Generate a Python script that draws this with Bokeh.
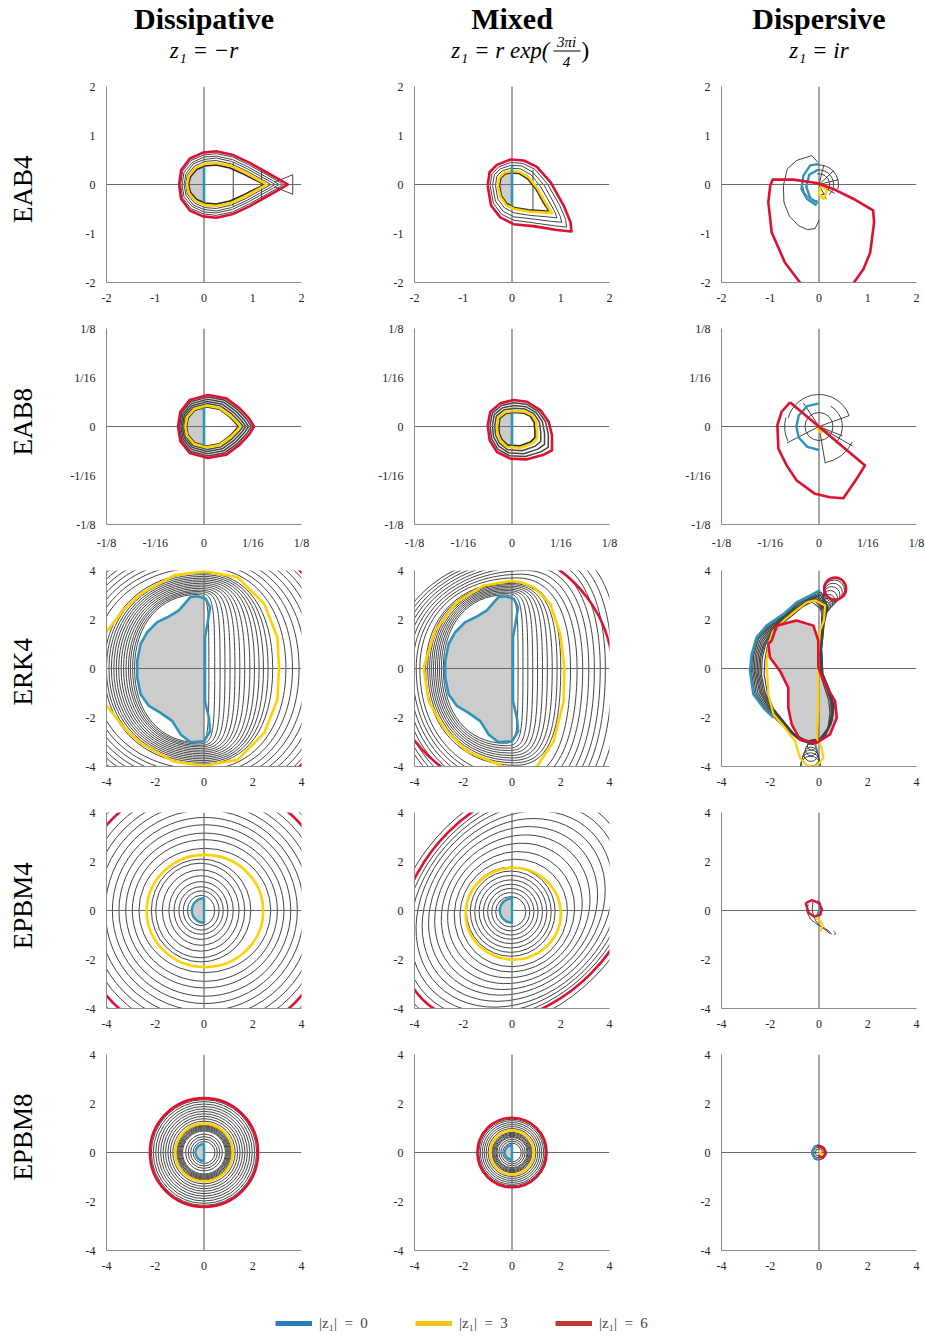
import math
from bokeh.plotting import figure
from bokeh.layouts import row, column
from bokeh.models import Range1d, FixedTicker, Legend, LegendItem
from bokeh.embed import file_html
from bokeh.resources import INLINE
from bokeh.core.properties import value

SERIF = "Liberation Serif"
BLUE = "#2f93ba"; YELLOW = "#ffd100"; RED = "#e01030"
GRAY = "#444444"; DARK = "#2a2a2a"; FILL = "#cccccc"; CROSS = "#6a6a6a"; AXIS = "#8c8c8c"

# ---------------- texts ----------------
col_titles = ["Dissipative", "Mixed", "Dispersive"]
col_formulas = ["z\u2081 = \u2212r", "z\u2081 = r exp(", "z\u2081 = ir"]
mixed_fraction = ["3\u03c0i", "4", ")"]
row_labels = ["EAB4", "EAB8", "ERK4", "EPBM4", "EPBM8"]
legend_labels = ["|z\u2081|  =  0", "|z\u2081|  =  3", "|z\u2081|  =  6"]
legend_colors = ["#2980b9", "#f1c40f", "#c0392b"]

ticks_2 = [-2.0, -1.0, 0.0, 1.0, 2.0]; labels_2 = ["-2", "-1", "0", "1", "2"]
ticks_8 = [-0.125, -0.0625, 0.0, 0.0625, 0.125]; labels_8 = ["-1/8", "-1/16", "0", "1/16", "1/8"]
ticks_4 = [-4.0, -2.0, 0.0, 2.0, 4.0]; labels_4 = ["-4", "-2", "0", "2", "4"]

# ---------------- EAB4 dissipative (upper halves, mirrored) ----------------
eab4_dis_red_x = [-0.51, -0.47, -0.29, -0.02, 0.25, 0.60, 0.94, 1.28, 1.55, 1.72]
eab4_dis_red_y = [0.00, 0.29, 0.53, 0.65, 0.68, 0.60, 0.44, 0.25, 0.10, 0.00]
eab4_dis_yel_x = [-0.35, -0.31, -0.17, 0.02, 0.25, 0.55, 0.85, 1.05, 1.20, 1.28]
eab4_dis_yel_y = [0.00, 0.18, 0.34, 0.42, 0.44, 0.38, 0.24, 0.13, 0.05, 0.00]
eab4_dis_in_x = [-0.32, -0.28, -0.15, 0.02, 0.25, 0.53, 0.82, 1.02, 1.16, 1.24]
eab4_dis_in_y = [0.00, 0.16, 0.31, 0.38, 0.40, 0.34, 0.21, 0.11, 0.04, 0.00]
eab4_dis_gray_x = [
    [-0.48, -0.44, -0.27, -0.01, 0.25, 0.59, 0.92, 1.23, 1.48, 1.63],
    [-0.45, -0.41, -0.24, 0.00, 0.25, 0.58, 0.90, 1.19, 1.41, 1.54],
    [-0.41, -0.37, -0.22, 0.00, 0.25, 0.57, 0.89, 1.14, 1.34, 1.46],
    [-0.38, -0.34, -0.19, 0.01, 0.25, 0.56, 0.87, 1.10, 1.27, 1.37]]
eab4_dis_gray_y = [
    [0.00, 0.27, 0.49, 0.60, 0.63, 0.56, 0.40, 0.23, 0.09, 0.00],
    [0.00, 0.25, 0.45, 0.56, 0.58, 0.51, 0.36, 0.20, 0.08, 0.00],
    [0.00, 0.22, 0.42, 0.51, 0.54, 0.47, 0.32, 0.18, 0.07, 0.00],
    [0.00, 0.20, 0.38, 0.47, 0.49, 0.42, 0.28, 0.15, 0.06, 0.00]]
eab4_dis_fill_x = [0.0, -0.15, -0.28, -0.32, -0.28, -0.15, 0.0]
eab4_dis_fill_y = [0.37, 0.31, 0.16, 0.0, -0.16, -0.31, -0.37]
eab4_dis_blue_y = [-0.36, 0.36]
eab4_dis_seg_x = [[0.60, 0.60], [1.18, 1.18], [1.45, 1.82, 1.82, 1.45]]
eab4_dis_seg_y = [[-0.45, 0.45], [-0.33, 0.33], [0.05, 0.20, -0.20, -0.05]]

# ---------------- EAB4 mixed (closed curves) ----------------
eab4_mix_red_x = [-0.50, -0.46, -0.31, -0.03, 0.24, 0.51, 0.79, 1.06, 1.20, 1.22, 0.92, 0.44, 0.03, -0.24, -0.43]
eab4_mix_red_y = [-0.02, 0.25, 0.40, 0.51, 0.49, 0.36, 0.05, -0.43, -0.77, -0.96, -0.93, -0.85, -0.81, -0.67, -0.43]
eab4_mix_yel_x = [-0.29, -0.26, -0.16, -0.03, 0.15, 0.35, 0.52, 0.68, 0.78, 0.82, 0.65, 0.35, 0.05, -0.12, -0.24]
eab4_mix_yel_y = [-0.02, 0.14, 0.24, 0.27, 0.26, 0.14, -0.08, -0.36, -0.52, -0.58, -0.57, -0.55, -0.50, -0.42, -0.25]
eab4_mix_in_x = [-0.26, -0.23, -0.15, -0.03, 0.14, 0.32, 0.49, 0.64, 0.74, 0.77, 0.62, 0.34, 0.05, -0.11, -0.22]
eab4_mix_in_y = [-0.02, 0.13, 0.21, 0.24, 0.23, 0.12, -0.09, -0.36, -0.51, -0.55, -0.54, -0.52, -0.47, -0.39, -0.23]
eab4_mix_gray_x = [
    [-0.45, -0.41, -0.27, -0.03, 0.22, 0.47, 0.72, 0.97, 1.10, 1.12, 0.85, 0.42, 0.04, -0.21, -0.38],
    [-0.40, -0.36, -0.24, -0.03, 0.20, 0.43, 0.66, 0.87, 0.99, 1.02, 0.79, 0.40, 0.04, -0.18, -0.34],
    [-0.34, -0.31, -0.20, -0.03, 0.17, 0.39, 0.59, 0.78, 0.89, 0.92, 0.72, 0.37, 0.05, -0.15, -0.29]]
eab4_mix_gray_y = [
    [-0.02, 0.22, 0.36, 0.45, 0.43, 0.31, 0.02, -0.41, -0.71, -0.87, -0.84, -0.78, -0.73, -0.61, -0.39],
    [-0.02, 0.20, 0.32, 0.39, 0.38, 0.25, -0.02, -0.40, -0.65, -0.77, -0.75, -0.70, -0.66, -0.55, -0.34],
    [-0.02, 0.17, 0.28, 0.33, 0.32, 0.20, -0.05, -0.38, -0.58, -0.68, -0.66, -0.63, -0.58, -0.48, -0.30]]
eab4_mix_fill_x = [0.0, -0.15, -0.23, -0.26, -0.22, -0.11, 0.0]
eab4_mix_fill_y = [0.24, 0.21, 0.13, -0.02, -0.23, -0.39, -0.46]
eab4_mix_blue_y = [-0.43, 0.38]
eab4_mix_seg_x = [[0.43, 0.43]]
eab4_mix_seg_y = [[-0.55, 0.30]]

# ---------------- EAB4 dispersive ----------------
eab4_dsp_red_x = [-0.32, -0.39, -0.70, -0.97, -1.04, -1.00, -0.95, -0.53, -0.05, 0.29, 0.70, 1.11, 1.13, 1.05, 0.91, 0.69, 0.65]
eab4_dsp_red_y = [-2.10, -2.00, -1.59, -0.98, -0.36, -0.02, 0.10, 0.10, 0.03, -0.09, -0.29, -0.53, -0.77, -1.39, -1.73, -2.04, -2.10]
eab4_dsp_loop_x = [0.00, -0.08, -0.24, -0.42, -0.61, -0.72, -0.73, -0.65, -0.46, -0.15, -0.02]
eab4_dsp_loop_y = [-0.73, -0.90, -0.92, -0.84, -0.64, -0.36, -0.02, 0.32, 0.49, 0.59, 0.45]
eab4_dsp_arc_r = [0.40, 0.30, 0.22, 0.34]
eab4_dsp_arc_a0 = [-15, -45, -80, 185]
eab4_dsp_arc_a1 = [95, 105, 100, 265]
eab4_dsp_spoke_x = [[0, 0.40], [0, 0.30], [0, 0.10], [0, 0.32], [0, 0.15]]
eab4_dsp_spoke_y = [[0, 0.10], [0, 0.28], [0, 0.40], [0, -0.18], [0, -0.30]]
eab4_dsp_blue_x = [[0.00, -0.18, -0.32, -0.36, -0.25, -0.05], [-0.02, -0.20, -0.26, -0.18, -0.02]]
eab4_dsp_blue_y = [[0.42, 0.39, 0.18, -0.09, -0.29, -0.43], [0.30, 0.20, -0.05, -0.28, -0.38]]
eab4_dsp_yel_x = [0.05, 0.16, 0.12, 0.09, -0.01, 0.05]
eab4_dsp_yel_y = [-0.02, -0.12, -0.25, -0.29, -0.19, -0.02]

# ---------------- EAB8 dissipative ----------------
eab8_dis_red_x = [-0.0333, -0.0303, -0.0184, 0.0051, 0.0286, 0.0457, 0.0577, 0.0641]
eab8_dis_red_y = [0.0, 0.0188, 0.0338, 0.0402, 0.0359, 0.0231, 0.0103, 0.0]
eab8_dis_yel_x = [-0.0239, -0.0218, -0.0125, 0.0040, 0.0200, 0.0340, 0.0420, 0.0466]
eab8_dis_yel_y = [0.0, 0.0118, 0.0222, 0.0265, 0.0235, 0.0135, 0.0055, 0.0]
eab8_dis_in_x = [-0.0225, -0.0205, -0.0118, 0.0040, 0.0195, 0.0325, 0.0398, 0.0442]
eab8_dis_in_y = [0.0, 0.0110, 0.0208, 0.0250, 0.0222, 0.0128, 0.0052, 0.0]
eab8_dis_gray_x = [
    [-0.0314, -0.0286, -0.0172, 0.0049, 0.0269, 0.0434, 0.0546, 0.0606],
    [-0.0295, -0.0269, -0.0160, 0.0047, 0.0252, 0.0410, 0.0514, 0.0571],
    [-0.0277, -0.0252, -0.0149, 0.0044, 0.0234, 0.0387, 0.0483, 0.0536],
    [-0.0258, -0.0235, -0.0137, 0.0042, 0.0217, 0.0363, 0.0451, 0.0501]]
eab8_dis_gray_y = [
    [0.0, 0.0174, 0.0315, 0.0375, 0.0334, 0.0212, 0.0093, 0.0],
    [0.0, 0.0160, 0.0292, 0.0347, 0.0310, 0.0193, 0.0084, 0.0],
    [0.0, 0.0146, 0.0268, 0.0320, 0.0285, 0.0173, 0.0074, 0.0],
    [0.0, 0.0132, 0.0245, 0.0292, 0.0260, 0.0154, 0.0065, 0.0]]
eab8_dis_fill_x = [0.0, -0.0118, -0.0205, -0.0225, -0.0205, -0.0118, 0.0]
eab8_dis_fill_y = [0.025, 0.0208, 0.011, 0.0, -0.011, -0.0208, -0.025]
eab8_dis_blue_y = [-0.025, 0.025]

# ---------------- EAB8 mixed ----------------
eab8_mix_red_x = [-0.0312, -0.0278, -0.0150, 0.0021, 0.0192, 0.0363, 0.0470, 0.0513, 0.0513, 0.0406, 0.0192, -0.0021, -0.0192, -0.0286]
eab8_mix_red_y = [0.0017, 0.0188, 0.0295, 0.0338, 0.0316, 0.0209, 0.0060, -0.0111, -0.0303, -0.0359, -0.0419, -0.0410, -0.0325, -0.0175]
eab8_mix_yel_x = [-0.0192, -0.0175, -0.0085, 0.0040, 0.0160, 0.0256, 0.0310, 0.0321, 0.0321, 0.0256, 0.0107, -0.0064, -0.0150, -0.0185]
eab8_mix_yel_y = [0.0, 0.0115, 0.0185, 0.0198, 0.0190, 0.0145, 0.0060, -0.0060, -0.0154, -0.0218, -0.0274, -0.0261, -0.0175, -0.0090]
eab8_mix_in_x = [-0.0170, -0.0157, -0.0078, 0.0040, 0.0150, 0.0236, 0.0285, 0.0295, 0.0295, 0.0236, 0.0102, -0.0058, -0.0135, -0.0165]
eab8_mix_in_y = [0.0, 0.0105, 0.0168, 0.0180, 0.0172, 0.0130, 0.0050, -0.0055, -0.0140, -0.0198, -0.0248, -0.0238, -0.0160, -0.0082]
eab8_mix_gray_x = [
    [-0.0282, -0.0252, -0.0134, 0.0026, 0.0184, 0.0336, 0.0430, 0.0465, 0.0465, 0.0369, 0.0171, -0.0032, -0.0182, -0.0261],
    [-0.0252, -0.0227, -0.0118, 0.0031, 0.0176, 0.0310, 0.0390, 0.0417, 0.0417, 0.0331, 0.0150, -0.0043, -0.0171, -0.0236],
    [-0.0222, -0.0201, -0.0101, 0.0035, 0.0168, 0.0283, 0.0350, 0.0369, 0.0369, 0.0294, 0.0128, -0.0053, -0.0161, -0.0210]]
eab8_mix_gray_y = [
    [0.0013, 0.0170, 0.0268, 0.0303, 0.0285, 0.0193, 0.0060, -0.0098, -0.0266, -0.0324, -0.0383, -0.0373, -0.0288, -0.0154],
    [0.0009, 0.0152, 0.0240, 0.0268, 0.0253, 0.0177, 0.0060, -0.0086, -0.0229, -0.0289, -0.0347, -0.0336, -0.0250, -0.0133],
    [0.0004, 0.0133, 0.0213, 0.0233, 0.0222, 0.0161, 0.0060, -0.0073, -0.0191, -0.0253, -0.0310, -0.0298, -0.0213, -0.0111]]
eab8_mix_fill_x = [0.0, -0.0078, -0.0157, -0.0170, -0.0165, -0.0135, -0.0058, 0.0]
eab8_mix_fill_y = [0.0176, 0.0168, 0.0105, 0.0, -0.0082, -0.0160, -0.0238, -0.0244]
eab8_mix_blue_y = [-0.0248, 0.0188]

# ---------------- EAB8 dispersive ----------------
eab8_dsp_red_x = [-0.0372, 0.0590, 0.0483, 0.0312, 0.0141, -0.0051, -0.0286, -0.0415, -0.0521, -0.0534, -0.0479, -0.0372]
eab8_dsp_red_y = [0.0308, -0.0496, -0.0667, -0.0915, -0.0902, -0.0859, -0.0688, -0.0496, -0.0282, 0.0017, 0.0188, 0.0308]
eab8_dsp_arc_r = [0.041, 0.044, 0.047, 0.030, 0.018]
eab8_dsp_arc_a0 = [20, 165, -80, -45, 0]
eab8_dsp_arc_a1 = [165, 205, -25, 60, 360]
eab8_dsp_spoke_x = [[0, 0.039], [0, 0.030], [0, -0.041], [0, 0.008], [0, 0.043], [0, -0.020]]
eab8_dsp_spoke_y = [[0, 0.014], [0, -0.012], [0, -0.021], [0, -0.047], [0, -0.025], [0, 0.030]]
eab8_dsp_blue_x = [0.0, -0.015, -0.026, -0.029, -0.026, -0.015, 0.0]
eab8_dsp_blue_y = [0.0295, 0.026, 0.014, 0.0, -0.014, -0.026, -0.030]
eab8_dsp_yel_x = [0.0, 0.004, 0.003, -0.001, 0.0]
eab8_dsp_yel_y = [0.0, -0.003, -0.008, -0.005, 0.0]

# ---------------- ERK4 ----------------
erk_blue_x = [-0.27, -0.55, -1.03, -1.50, -1.92, -2.33, -2.60, -2.74, -2.74, -2.60, -2.26, -1.78, -1.30, -0.96, -0.55, 0.00, 0.25, 0.20, 0.04, 0.04, 0.14, 0.25, 0.07, -0.27]
erk_blue_y = [2.95, 2.92, 2.37, 2.09, 1.89, 1.48, 1.00, 0.31, -0.37, -1.05, -1.53, -1.81, -2.15, -2.69, -3.01, -2.97, -2.56, -2.00, -1.33, 1.27, 1.82, 2.50, 2.85, 2.95]
erk_fill_x = [0.0, -0.27, -0.55, -1.03, -1.50, -1.92, -2.33, -2.60, -2.74, -2.74, -2.60, -2.26, -1.78, -1.30, -0.96, -0.55, 0.0]
erk_fill_y = [2.92, 2.95, 2.92, 2.37, 2.09, 1.89, 1.48, 1.00, 0.31, -0.37, -1.05, -1.53, -1.81, -2.15, -2.69, -3.01, -2.97]

erk_dis_yel_x = [-4.36, -4.30, -4.00, -3.30, -2.60, -1.23, 0.00, 1.37, 2.47, 3.01, 3.08]
erk_dis_yel_y = [0.00, 0.60, 1.50, 2.40, 3.05, 3.80, 3.97, 3.73, 2.64, 1.27, 0.00]
erk_dis_L = [-2.85, -2.93, -3.02, -3.10, -3.20, -3.30, -3.40, -3.50, -3.60, -3.70, -3.80, -3.90, -4.00, -4.10,
             -4.55, -4.75, -4.95, -5.15, -5.35, -5.55, -5.75, -5.95]
erk_dis_R = [0.20, 0.44, 0.66, 0.86, 1.07, 1.27, 1.47, 1.67, 1.88, 2.07, 2.26, 2.44, 2.63, 2.82,
             3.36, 3.63, 3.90, 4.17, 4.44, 4.71, 4.98, 5.25]
erk_dis_T = [3.02, 3.08, 3.14, 3.20, 3.27, 3.34, 3.41, 3.48, 3.55, 3.62, 3.69, 3.76, 3.83, 3.90,
             4.12, 4.30, 4.48, 4.66, 4.84, 5.02, 5.20, 5.38]
erk_dis_XT = [-0.25, -0.23, -0.21, -0.19, -0.17, -0.15, -0.13, -0.11, -0.09, -0.07, -0.05, -0.03, -0.02, -0.01,
              0.0, 0.0, 0.0, 0.0, 0.0, 0.0, 0.0, 0.0]
erk_dis_SR = [0.92, 0.90, 0.88, 0.85, 0.82, 0.80, 0.77, 0.74, 0.72, 0.70, 0.68, 0.66, 0.64, 0.62,
              0.60, 0.60, 0.60, 0.60, 0.60, 0.60, 0.60, 0.60]
erk_dis_red_r = [5.62, 5.62]
erk_dis_red_a0 = [40, -50]
erk_dis_red_a1 = [50, -40]

erk_mix_yel_x = [-0.07, -1.16, -2.26, -3.15, -3.63, -3.42, -2.80, -1.85, -0.48, 0.25, 1.03, 1.71, 2.12, 2.15, 1.98, 1.57, 0.89, 0.34, -0.07]
erk_mix_yel_y = [3.57, 3.39, 2.71, 1.55, 0.04, -1.33, -2.42, -3.38, -3.95, -4.25, -3.99, -2.97, -1.33, 0.04, 1.41, 2.64, 3.32, 3.53, 3.57]
erk_mix_L = [-2.82, -2.90, -2.98, -3.06, -3.14, -3.22, -3.30, -3.38, -3.46, -3.54,
             -3.78, -3.93, -4.08, -4.23, -4.38, -4.53, -4.68, -4.83, -4.98]
erk_mix_R = [0.25, 0.45, 0.65, 0.85, 1.05, 1.25, 1.45, 1.65, 1.85, 2.00,
             2.40, 2.67, 2.90, 3.15, 3.38, 3.62, 3.83, 4.10, 4.40]
erk_mix_T = [3.00, 3.06, 3.12, 3.18, 3.24, 3.30, 3.36, 3.42, 3.47, 3.52,
             3.70, 3.85, 4.00, 4.15, 4.30, 4.45, 4.60, 4.75, 4.90]
erk_mix_B = [-3.05, -3.15, -3.25, -3.35, -3.45, -3.55, -3.65, -3.75, -3.85, -3.95,
             -4.45, -4.65, -4.85, -5.05, -5.25, -5.45, -5.65, -5.85, -6.05]
erk_mix_XT = [-0.30, -0.27, -0.24, -0.21, -0.18, -0.15, -0.12, -0.09, -0.06, -0.03,
              0.2, 0.4, 0.6, 0.8, 1.0, 1.2, 1.4, 1.6, 1.8]
erk_mix_XB = [-0.30, -0.25, -0.20, -0.15, -0.10, -0.05, 0.00, 0.05, 0.10, 0.15,
              0.4, 0.5, 0.6, 0.7, 0.8, 0.9, 1.0, 1.1, 1.2]
erk_mix_SR = [0.92, 0.90, 0.88, 0.85, 0.82, 0.80, 0.77, 0.74, 0.72, 0.70,
              0.64, 0.62, 0.62, 0.62, 0.62, 0.62, 0.62, 0.62, 0.62]
# red |z1|=6 curve: only two arcs are inside the window (upper right, lower left)
erk_mix_red_cx = [-1.17, 0.50]
erk_mix_red_cy = [-0.28, 0.50]
erk_mix_red_r = [5.32, 5.67]
erk_mix_red_a0 = [5, 195]
erk_mix_red_a1 = [70, 260]

erk_dsp_red_x = [-1.94, -1.74, -0.92, -0.23, -0.03, -0.03, 0.25, 0.66, 0.73, 0.45, -0.10, -0.78, -1.12, -1.26, -1.26, -1.60, -2.01, -2.08, -1.94]
erk_dsp_red_y = [1.14, 1.75, 1.96, 1.75, 1.14, 0.04, -0.64, -1.33, -2.01, -2.69, -3.04, -2.90, -2.28, -1.60, -0.78, -0.10, 0.45, 1.00, 1.14]
erk_dsp_blue_x = [0.05, -0.37, -0.92, -1.46, -2.15, -2.56, -2.76, -2.83, -2.69, -2.28, -1.87]
erk_dsp_blue_y = [3.20, 2.97, 2.70, 2.22, 1.75, 1.27, 0.59, -0.10, -1.05, -1.60, -2.00]
erk_dsp_yel_x = [-0.50, -0.90, -1.40, -1.90, -2.08, -2.15, -2.08, -1.87, -1.40, -0.98, -0.78, -0.51, -0.10, 0.18, 0.11, -0.10, -0.03, -0.03, 0.04, 0.20, 0.25, -0.16, -0.50]
erk_dsp_yel_y = [2.70, 2.40, 2.00, 1.50, 0.86, 0.31, -1.05, -1.87, -2.42, -2.97, -3.65, -3.95, -4.00, -3.65, -3.24, -2.83, -1.60, 0.50, 1.55, 1.96, 2.57, 2.78, 2.70]
erk_dsp_gray_x = [
    [0.08, -0.38, -0.93, -1.48, -2.12, -2.52, -2.72, -2.78, -2.64, -2.24, -1.81, -1.32, -0.82, -0.32, 0.15, 0.48, 0.62, 0.43, 0.16, 0.11, 0.21, 0.37, 0.08],
    [0.10, -0.40, -0.95, -1.50, -2.10, -2.48, -2.68, -2.72, -2.58, -2.20, -1.75, -1.25, -0.75, -0.25, 0.20, 0.50, 0.62, 0.42, 0.15, 0.10, 0.20, 0.35, 0.10],
    [0.05, -0.42, -0.97, -1.52, -2.08, -2.43, -2.62, -2.66, -2.52, -2.15, -1.70, -1.20, -0.70, -0.20, 0.22, 0.52, 0.61, 0.40, 0.13, 0.09, 0.19, 0.32, 0.05],
    [0.00, -0.45, -1.00, -1.55, -2.05, -2.38, -2.56, -2.60, -2.45, -2.10, -1.65, -1.15, -0.65, -0.15, 0.25, 0.55, 0.60, 0.38, 0.12, 0.08, 0.18, 0.30, 0.00],
    [-0.05, -0.48, -1.02, -1.57, -2.02, -2.33, -2.50, -2.54, -2.40, -2.05, -1.60, -1.10, -0.60, -0.10, 0.28, 0.55, 0.58, 0.36, 0.11, 0.07, 0.17, 0.28, -0.05],
    [-0.10, -0.50, -1.05, -1.60, -2.00, -2.28, -2.44, -2.48, -2.34, -2.00, -1.55, -1.05, -0.55, -0.05, 0.30, 0.55, 0.55, 0.34, 0.10, 0.06, 0.16, 0.25, -0.10],
    [-0.15, -0.55, -1.08, -1.60, -1.98, -2.24, -2.39, -2.42, -2.28, -1.95, -1.50, -1.02, -0.52, -0.02, 0.32, 0.52, 0.52, 0.31, 0.09, 0.05, 0.14, 0.22, -0.15],
    [-0.20, -0.60, -1.10, -1.60, -1.95, -2.20, -2.33, -2.36, -2.22, -1.90, -1.45, -1.00, -0.50, 0.00, 0.35, 0.50, 0.48, 0.28, 0.08, 0.04, 0.12, 0.18, -0.20],
    [-0.30, -0.70, -1.15, -1.65, -1.95, -2.12, -2.22, -2.25, -2.12, -1.85, -1.40, -0.95, -0.45, 0.05, 0.38, 0.45, 0.40, 0.20, 0.05, 0.02, 0.10, 0.12, -0.30]]
erk_dsp_gray_y = [
    [3.12, 2.93, 2.64, 2.17, 1.70, 1.23, 0.57, -0.10, -1.02, -1.60, -2.02, -2.50, -2.90, -3.08, -2.88, -2.28, -1.56, -0.86, -0.20, 0.80, 1.80, 2.52, 3.12],
    [3.05, 2.88, 2.58, 2.12, 1.65, 1.20, 0.55, -0.10, -1.00, -1.60, -2.05, -2.55, -2.95, -3.10, -2.85, -2.25, -1.55, -0.85, -0.20, 0.80, 1.80, 2.50, 3.05],
    [3.00, 2.83, 2.51, 2.06, 1.60, 1.15, 0.52, -0.12, -0.97, -1.57, -2.05, -2.57, -2.95, -3.05, -2.78, -2.18, -1.52, -0.85, -0.20, 0.80, 1.80, 2.48, 3.00],
    [2.95, 2.78, 2.45, 2.00, 1.55, 1.10, 0.50, -0.15, -0.95, -1.55, -2.05, -2.60, -2.95, -3.00, -2.70, -2.10, -1.50, -0.85, -0.20, 0.80, 1.80, 2.45, 2.95],
    [2.90, 2.73, 2.39, 1.95, 1.50, 1.05, 0.48, -0.18, -0.95, -1.55, -2.08, -2.62, -2.95, -2.98, -2.65, -2.05, -1.45, -0.82, -0.20, 0.80, 1.80, 2.42, 2.90],
    [2.85, 2.68, 2.33, 1.90, 1.45, 1.00, 0.45, -0.20, -0.95, -1.55, -2.10, -2.65, -2.95, -2.95, -2.60, -2.00, -1.40, -0.80, -0.20, 0.80, 1.80, 2.40, 2.85],
    [2.82, 2.63, 2.28, 1.86, 1.42, 0.98, 0.42, -0.22, -0.95, -1.58, -2.12, -2.68, -2.95, -2.92, -2.55, -1.95, -1.38, -0.78, -0.20, 0.80, 1.80, 2.40, 2.82],
    [2.78, 2.58, 2.22, 1.82, 1.40, 0.95, 0.40, -0.25, -0.95, -1.60, -2.15, -2.70, -2.95, -2.90, -2.50, -1.90, -1.35, -0.75, -0.20, 0.80, 1.80, 2.40, 2.78],
    [2.72, 2.50, 2.12, 1.72, 1.30, 0.90, 0.35, -0.25, -1.00, -1.70, -2.25, -2.80, -2.95, -2.85, -2.40, -1.80, -1.30, -0.70, -0.20, 0.80, 1.80, 2.40, 2.72]]
erk_dsp_top_cx = [0.22, 0.28, 0.34, 0.40, 0.46, 0.52, 0.58, 0.63]
erk_dsp_top_cy = [2.40, 2.52, 2.64, 2.76, 2.88, 3.00, 3.10, 3.19]
erk_dsp_top_r = [0.16, 0.19, 0.22, 0.26, 0.30, 0.34, 0.38, 0.42]
erk_dsp_bot_cx = [-0.30, -0.32, -0.33, -0.34, -0.35, -0.35]
erk_dsp_bot_cy = [-3.15, -3.32, -3.50, -3.66, -3.82, -4.00]
erk_dsp_bot_r = [0.18, 0.24, 0.29, 0.34, 0.38, 0.42]
erk_dsp_red_circle = dict(x=0.66, y=3.26, r=0.45)

# ---------------- EPBM4 ----------------
epbm4_dis_L = [-0.68, -0.85, -1.03, -1.23, -1.44, -1.71, -1.98, -2.16, -2.67, -2.94, -3.21, -3.49, -3.76, -4.05, -4.35, -4.65, -4.95, -5.60]
epbm4_dis_R = [0.44, 0.62, 0.79, 0.98, 1.20, 1.44, 1.67, 1.92, 2.74, 3.01, 3.28, 3.56, 3.83, 4.10, 4.40, 4.70, 5.00, 5.60]
epbm4_dis_T = [0.62, 0.80, 0.97, 1.18, 1.42, 1.66, 1.93, 2.10, 2.54, 2.89, 3.16, 3.50, 3.80, 4.10, 4.40, 4.70, 5.00, 5.60]
epbm4_dis_yel = dict(L=-2.35, R=2.43, T=2.27, B=-2.31)
epbm4_dis_red_r = 5.3
epbm4_blue_r = 0.5

epbm4_mix_in_r = [0.62, 0.78, 0.95, 1.12, 1.30, 1.48, 1.66, 1.82]
epbm4_mix_yel = dict(x=0.05, y=-0.13, w=3.90, h=3.75)
epbm4_mix_out_w = [4.5, 5.1, 5.8, 6.5, 7.2, 7.9, 8.6, 9.3, 10.0, 10.7, 12.0]
epbm4_mix_out_h = [4.3, 4.75, 5.2, 5.65, 6.1, 6.5, 6.9, 7.3, 7.6, 7.9, 8.6]
epbm4_mix_out_cx = [0.07, 0.10, 0.12, 0.15, 0.17, 0.20, 0.22, 0.25, 0.27, 0.29, 0.32]
epbm4_mix_out_cy = [-0.10, -0.05, 0.0, 0.05, 0.10, 0.15, 0.18, 0.22, 0.25, 0.28, 0.32]
epbm4_mix_red = dict(x=0.3, y=0.3, w=11.2, h=8.2, angle=45)

epbm4_dsp_red_x = [-0.55, -0.30, 0.00, 0.12, 0.05, -0.20, -0.42, -0.55]
epbm4_dsp_red_y = [0.30, 0.42, 0.30, 0.05, -0.18, -0.25, -0.10, 0.30]
epbm4_dsp_blue_x = [-0.05, 0.05, 0.02, -0.08]
epbm4_dsp_blue_y = [0.42, 0.25, 0.00, -0.20]
epbm4_dsp_yel_x = [-0.15, 0.05, 0.15, 0.08]
epbm4_dsp_yel_y = [-0.30, -0.42, -0.60, -0.85]
epbm4_dsp_gray_x = [[-0.45, -0.50, -0.35, -0.10, 0.20, 0.42, 0.52], [-0.25, -0.28, -0.15, 0.05, 0.28, 0.45], [0.60, 0.68, 0.64]]
epbm4_dsp_gray_y = [[0.25, -0.05, -0.35, -0.55, -0.70, -0.85, -0.98], [0.35, 0.00, -0.40, -0.65, -0.80, -0.95], [-0.85, -0.92, -1.00]]

# ---------------- EPBM8 ----------------
epbm8_dis_r = [0.45, 0.55, 0.65, 0.75, 0.88, 0.92, 0.96, 1.00, 1.04, 1.08, 1.12,
               1.28, 1.38, 1.48, 1.58, 1.68, 1.78, 1.88, 1.98, 2.08, 2.16]
epbm8_dis_yel_r = 1.18
epbm8_dis_red_r = 2.22
epbm8_dis_blue_r = 0.35
epbm8_mix_r = [0.38, 0.46, 0.54, 0.62, 0.66, 0.70, 0.74, 0.78, 0.82, 0.98, 1.06, 1.14, 1.22, 1.30, 1.36]
epbm8_mix_yel_r = 0.90
epbm8_mix_red_r = 1.42
epbm8_mix_blue_r = 0.30
epbm8_dsp_red_x = [-0.08, 0.18, 0.28, 0.15, -0.03]
epbm8_dsp_red_y = [0.28, 0.18, -0.03, -0.22, -0.15]
epbm8_dsp_blue_x = [0.0, -0.17, -0.30, -0.17, 0.0]
epbm8_dsp_blue_y = [0.30, 0.25, 0.0, -0.25, -0.30]
epbm8_dsp_yel_x = [0.0, 0.12, 0.08]
epbm8_dsp_yel_y = [0.08, -0.08, -0.22]
epbm8_dsp_gray_r = [0.15, 0.22, 0.30]


# ---------------- helpers ----------------
def mirrored(xs, ys):
    return list(xs) + list(xs[-2::-1]), list(ys) + [-v for v in ys[-2::-1]]


def closed(xs, ys):
    return list(xs) + [xs[0]], list(ys) + [ys[0]]


def bez_loops(L, R, T, B, XT, XB, SR, sl=0.6):
    d = dict(x0=[], y0=[], x1=[], y1=[], cx0=[], cy0=[], cx1=[], cy1=[])

    def add(p0, c0, c1, p1):
        d["x0"].append(p0[0]); d["y0"].append(p0[1])
        d["cx0"].append(c0[0]); d["cy0"].append(c0[1])
        d["cx1"].append(c1[0]); d["cy1"].append(c1[1])
        d["x1"].append(p1[0]); d["y1"].append(p1[1])

    for l, r, t, b, xt, xb, sr in zip(L, R, T, B, XT, XB, SR):
        add((r, 0), (r, sr * t), (xt + sr * (r - xt), t), (xt, t))
        add((xt, t), (xt - sl * (xt - l), t), (l, sl * t), (l, 0))
        add((l, 0), (l, sl * b), (xb - sl * (xb - l), b), (xb, b))
        add((xb, b), (xb + sr * (r - xb), b), (r, sr * b), (r, 0))
    return d


def make_panel(r, c):
    if r == 0:
        rng, ticks, labels = 2.0, ticks_2, labels_2
    elif r == 1:
        rng, ticks, labels = 0.125, ticks_8, labels_8
    else:
        rng, ticks, labels = 4.0, ticks_4, labels_4
    left, right = [(46, 67), (46, 67), (45, 9)][c]
    p = figure(frame_width=195, frame_height=196, x_range=Range1d(-rng, rng), y_range=Range1d(-rng, rng),
               min_border_left=left, min_border_right=right, min_border_top=10, min_border_bottom=36,
               output_backend="svg", toolbar_location=None, title=None)
    p.grid.visible = False
    p.outline_line_color = None
    for ax in (p.xaxis[0], p.yaxis[0]):
        ax.ticker = FixedTicker(ticks=ticks)
        ax.major_label_overrides = {t: l for t, l in zip(ticks, labels)}
        ax.major_tick_line_color = None
        ax.minor_tick_line_color = None
        ax.axis_line_color = AXIS
        ax.axis_line_width = 1
        ax.major_label_text_font = SERIF
        ax.major_label_text_font_size = "12px"
        ax.major_label_text_color = "#222222"
        ax.major_label_standoff = 5
    return p, rng


def cross(p, rng):
    p.line([-rng, rng], [0, 0], line_color=CROSS, line_width=1.2)
    p.line([0, 0], [-rng, rng], line_color=CROSS, line_width=1.2)


def curve(p, xs, ys, color, w=2.6):
    p.line(xs, ys, line_color=color, line_width=w, line_join="round")


panels = [[None] * 3 for _ in range(5)]

# ===== Row 1: EAB4 =====
p, rng = make_panel(0, 0)
gx, gy = [], []
for xs, ys in zip(eab4_dis_gray_x, eab4_dis_gray_y):
    mx, my = mirrored(xs, ys); gx.append(mx); gy.append(my)
p.multi_line(gx, gy, line_color=GRAY, line_width=1)
p.multi_line(eab4_dis_seg_x, eab4_dis_seg_y, line_color=GRAY, line_width=1)
p.patch(eab4_dis_fill_x, eab4_dis_fill_y, fill_color=FILL, line_color=None)
cross(p, rng)
mx, my = mirrored(eab4_dis_in_x, eab4_dis_in_y); curve(p, mx, my, DARK, 1.8)
mx, my = mirrored(eab4_dis_yel_x, eab4_dis_yel_y); curve(p, mx, my, YELLOW)
curve(p, [0, 0], eab4_dis_blue_y, BLUE)
mx, my = mirrored(eab4_dis_red_x, eab4_dis_red_y); curve(p, mx, my, RED)
panels[0][0] = p

p, rng = make_panel(0, 1)
gx, gy = [], []
for xs, ys in zip(eab4_mix_gray_x, eab4_mix_gray_y):
    cx_, cy_ = closed(xs, ys); gx.append(cx_); gy.append(cy_)
p.multi_line(gx, gy, line_color=GRAY, line_width=1)
p.multi_line(eab4_mix_seg_x, eab4_mix_seg_y, line_color=GRAY, line_width=1)
p.patch(eab4_mix_fill_x, eab4_mix_fill_y, fill_color=FILL, line_color=None)
cross(p, rng)
mx, my = closed(eab4_mix_in_x, eab4_mix_in_y); curve(p, mx, my, DARK, 1.8)
mx, my = closed(eab4_mix_yel_x, eab4_mix_yel_y); curve(p, mx, my, YELLOW)
curve(p, [0, 0], eab4_mix_blue_y, BLUE)
mx, my = closed(eab4_mix_red_x, eab4_mix_red_y); curve(p, mx, my, RED)
panels[0][1] = p

p, rng = make_panel(0, 2)
cross(p, rng)
p.line(eab4_dsp_loop_x, eab4_dsp_loop_y, line_color=GRAY, line_width=1)
p.arc(x=[0] * 4, y=[0] * 4, radius=eab4_dsp_arc_r,
      start_angle=[math.radians(a) for a in eab4_dsp_arc_a0],
      end_angle=[math.radians(a) for a in eab4_dsp_arc_a1], line_color=GRAY, line_width=1)
p.multi_line(eab4_dsp_spoke_x, eab4_dsp_spoke_y, line_color=GRAY, line_width=1)
p.multi_line(eab4_dsp_blue_x, eab4_dsp_blue_y, line_color=BLUE, line_width=2.4)
curve(p, eab4_dsp_yel_x, eab4_dsp_yel_y, YELLOW, 2.4)
curve(p, eab4_dsp_red_x, eab4_dsp_red_y, RED)
panels[0][2] = p

# ===== Row 2: EAB8 =====
p, rng = make_panel(1, 0)
gx, gy = [], []
for xs, ys in zip(eab8_dis_gray_x, eab8_dis_gray_y):
    mx, my = mirrored(xs, ys); gx.append(mx); gy.append(my)
p.multi_line(gx, gy, line_color=GRAY, line_width=1.5)
p.patch(eab8_dis_fill_x, eab8_dis_fill_y, fill_color=FILL, line_color=None)
cross(p, rng)
mx, my = mirrored(eab8_dis_in_x, eab8_dis_in_y); curve(p, mx, my, DARK, 1.8)
mx, my = mirrored(eab8_dis_yel_x, eab8_dis_yel_y); curve(p, mx, my, YELLOW)
curve(p, [0, 0], eab8_dis_blue_y, BLUE)
mx, my = mirrored(eab8_dis_red_x, eab8_dis_red_y); curve(p, mx, my, RED)
panels[1][0] = p

p, rng = make_panel(1, 1)
gx, gy = [], []
for xs, ys in zip(eab8_mix_gray_x, eab8_mix_gray_y):
    cx_, cy_ = closed(xs, ys); gx.append(cx_); gy.append(cy_)
p.multi_line(gx, gy, line_color=GRAY, line_width=1.5)
p.patch(eab8_mix_fill_x, eab8_mix_fill_y, fill_color=FILL, line_color=None)
cross(p, rng)
mx, my = closed(eab8_mix_in_x, eab8_mix_in_y); curve(p, mx, my, DARK, 1.8)
mx, my = closed(eab8_mix_yel_x, eab8_mix_yel_y); curve(p, mx, my, YELLOW)
curve(p, [0, 0], eab8_mix_blue_y, BLUE)
mx, my = closed(eab8_mix_red_x, eab8_mix_red_y); curve(p, mx, my, RED)
panels[1][1] = p

p, rng = make_panel(1, 2)
cross(p, rng)
n = len(eab8_dsp_arc_r)
p.arc(x=[0] * n, y=[0] * n, radius=eab8_dsp_arc_r,
      start_angle=[math.radians(a) for a in eab8_dsp_arc_a0],
      end_angle=[math.radians(a) for a in eab8_dsp_arc_a1], line_color=GRAY, line_width=1)
p.multi_line(eab8_dsp_spoke_x, eab8_dsp_spoke_y, line_color=GRAY, line_width=1)
curve(p, eab8_dsp_blue_x, eab8_dsp_blue_y, BLUE, 2.4)
curve(p, eab8_dsp_yel_x, eab8_dsp_yel_y, YELLOW, 2.4)
curve(p, eab8_dsp_red_x, eab8_dsp_red_y, RED)
panels[1][2] = p

# ===== Row 3: ERK4 =====
p, rng = make_panel(2, 0)
d = bez_loops(erk_dis_L, erk_dis_R, erk_dis_T, [-t for t in erk_dis_T], erk_dis_XT, erk_dis_XT, erk_dis_SR)
p.bezier(**d, line_color=GRAY, line_width=1)
p.patch(erk_fill_x, erk_fill_y, fill_color=FILL, line_color=None)
cross(p, rng)
mx, my = mirrored(erk_dis_yel_x, erk_dis_yel_y); curve(p, mx, my, YELLOW)
curve(p, erk_blue_x, erk_blue_y, BLUE)
p.arc(x=[0, 0], y=[0, 0], radius=erk_dis_red_r, start_angle=[math.radians(a) for a in erk_dis_red_a0],
      end_angle=[math.radians(a) for a in erk_dis_red_a1], line_color=RED, line_width=2.6)
panels[2][0] = p

p, rng = make_panel(2, 1)
d = bez_loops(erk_mix_L, erk_mix_R, erk_mix_T, erk_mix_B, erk_mix_XT, erk_mix_XB, erk_mix_SR)
p.bezier(**d, line_color=GRAY, line_width=1)
p.patch(erk_fill_x, erk_fill_y, fill_color=FILL, line_color=None)
cross(p, rng)
mx, my = closed(erk_mix_yel_x, erk_mix_yel_y); curve(p, mx, my, YELLOW)
curve(p, erk_blue_x, erk_blue_y, BLUE)
p.arc(x=erk_mix_red_cx, y=erk_mix_red_cy, radius=erk_mix_red_r,
      start_angle=[math.radians(a) for a in erk_mix_red_a0],
      end_angle=[math.radians(a) for a in erk_mix_red_a1], line_color=RED, line_width=2.6)
panels[2][1] = p

p, rng = make_panel(2, 2)
p.patch(erk_dsp_red_x, erk_dsp_red_y, fill_color=FILL, line_color=None)
cross(p, rng)
p.multi_line(erk_dsp_gray_x, erk_dsp_gray_y, line_color=GRAY, line_width=1.2)
p.ellipse(x=erk_dsp_top_cx, y=erk_dsp_top_cy, width=[2 * v for v in erk_dsp_top_r],
          height=[2 * v for v in erk_dsp_top_r], fill_color=None, line_color=GRAY, line_width=1)
p.ellipse(x=erk_dsp_bot_cx, y=erk_dsp_bot_cy, width=[2 * v for v in erk_dsp_bot_r],
          height=[2 * v for v in erk_dsp_bot_r], fill_color=None, line_color=GRAY, line_width=1)
curve(p, erk_dsp_blue_x, erk_dsp_blue_y, BLUE)
curve(p, erk_dsp_yel_x, erk_dsp_yel_y, YELLOW, 2.2)
curve(p, erk_dsp_red_x, erk_dsp_red_y, RED)
p.ellipse(x=[erk_dsp_red_circle["x"]], y=[erk_dsp_red_circle["y"]], width=[2 * erk_dsp_red_circle["r"]],
          height=[2 * erk_dsp_red_circle["r"]], fill_color=None, line_color=RED, line_width=2.6)
panels[2][2] = p

# ===== Row 4: EPBM4 =====
p, rng = make_panel(3, 0)
p.ellipse(x=[(l + r) / 2 for l, r in zip(epbm4_dis_L, epbm4_dis_R)], y=[0] * len(epbm4_dis_L),
          width=[r - l for l, r in zip(epbm4_dis_L, epbm4_dis_R)], height=[2 * t for t in epbm4_dis_T],
          fill_color=None, line_color=GRAY, line_width=1)
cross(p, rng)
yl = epbm4_dis_yel
p.ellipse(x=[(yl["L"] + yl["R"]) / 2], y=[(yl["T"] + yl["B"]) / 2], width=[yl["R"] - yl["L"]],
          height=[yl["T"] - yl["B"]], fill_color=None, line_color=YELLOW, line_width=2.6)
p.ellipse(x=[0], y=[0], width=[2 * epbm4_dis_red_r], height=[2 * epbm4_dis_red_r], fill_color=None,
          line_color=RED, line_width=2.6)
p.wedge(x=[0], y=[0], radius=[epbm4_blue_r], start_angle=math.pi / 2, end_angle=3 * math.pi / 2,
        fill_color=FILL, line_color=BLUE, line_width=2.4)
panels[3][0] = p

p, rng = make_panel(3, 1)
p.ellipse(x=[-0.05] * len(epbm4_mix_in_r), y=[-0.05] * len(epbm4_mix_in_r),
          width=[2 * v for v in epbm4_mix_in_r], height=[2 * v for v in epbm4_mix_in_r],
          fill_color=None, line_color=GRAY, line_width=1)
p.ellipse(x=epbm4_mix_out_cx, y=epbm4_mix_out_cy, width=epbm4_mix_out_w, height=epbm4_mix_out_h,
          angle=math.radians(45), fill_color=None, line_color=GRAY, line_width=1)
cross(p, rng)
p.ellipse(x=[epbm4_mix_yel["x"]], y=[epbm4_mix_yel["y"]], width=[epbm4_mix_yel["w"]], height=[epbm4_mix_yel["h"]],
          fill_color=None, line_color=YELLOW, line_width=2.6)
p.ellipse(x=[epbm4_mix_red["x"]], y=[epbm4_mix_red["y"]], width=[epbm4_mix_red["w"]], height=[epbm4_mix_red["h"]],
          angle=math.radians(epbm4_mix_red["angle"]), fill_color=None, line_color=RED, line_width=2.6)
p.wedge(x=[0], y=[0], radius=[epbm4_blue_r], start_angle=math.pi / 2, end_angle=3 * math.pi / 2,
        fill_color=FILL, line_color=BLUE, line_width=2.4)
panels[3][1] = p

p, rng = make_panel(3, 2)
cross(p, rng)
p.multi_line(epbm4_dsp_gray_x, epbm4_dsp_gray_y, line_color=GRAY, line_width=1)
curve(p, epbm4_dsp_blue_x, epbm4_dsp_blue_y, BLUE, 2.2)
curve(p, epbm4_dsp_yel_x, epbm4_dsp_yel_y, YELLOW, 2.2)
curve(p, epbm4_dsp_red_x, epbm4_dsp_red_y, RED, 2.4)
panels[3][2] = p

# ===== Row 5: EPBM8 =====
p, rng = make_panel(4, 0)
p.ellipse(x=[0] * len(epbm8_dis_r), y=[0] * len(epbm8_dis_r), width=[2 * v for v in epbm8_dis_r],
          height=[2 * v for v in epbm8_dis_r], fill_color=None, line_color=GRAY, line_width=1)
cross(p, rng)
p.ellipse(x=[0], y=[0], width=[2 * epbm8_dis_yel_r], height=[2 * epbm8_dis_yel_r], fill_color=None,
          line_color=YELLOW, line_width=2.6)
p.ellipse(x=[0], y=[0], width=[2 * epbm8_dis_red_r], height=[2 * epbm8_dis_red_r], fill_color=None,
          line_color=RED, line_width=2.6)
p.wedge(x=[0], y=[0], radius=[epbm8_dis_blue_r], start_angle=math.pi / 2, end_angle=3 * math.pi / 2,
        fill_color=FILL, line_color=BLUE, line_width=2.4)
panels[4][0] = p

p, rng = make_panel(4, 1)
p.ellipse(x=[0] * len(epbm8_mix_r), y=[0] * len(epbm8_mix_r), width=[2 * v for v in epbm8_mix_r],
          height=[2 * v for v in epbm8_mix_r], fill_color=None, line_color=GRAY, line_width=1)
cross(p, rng)
p.ellipse(x=[0], y=[0], width=[2 * epbm8_mix_yel_r], height=[2 * epbm8_mix_yel_r], fill_color=None,
          line_color=YELLOW, line_width=2.6)
p.ellipse(x=[0], y=[0], width=[2 * epbm8_mix_red_r], height=[2 * epbm8_mix_red_r], fill_color=None,
          line_color=RED, line_width=2.6)
p.wedge(x=[0], y=[0], radius=[epbm8_mix_blue_r], start_angle=math.pi / 2, end_angle=3 * math.pi / 2,
        fill_color=FILL, line_color=BLUE, line_width=2.4)
panels[4][1] = p

p, rng = make_panel(4, 2)
cross(p, rng)
p.ellipse(x=[0] * 3, y=[0] * 3, width=[2 * v for v in epbm8_dsp_gray_r], height=[2 * v for v in epbm8_dsp_gray_r],
          fill_color=None, line_color=GRAY, line_width=1)
curve(p, epbm8_dsp_blue_x, epbm8_dsp_blue_y, BLUE, 2.2)
curve(p, epbm8_dsp_yel_x, epbm8_dsp_yel_y, YELLOW, 2.2)
curve(p, epbm8_dsp_red_x, epbm8_dsp_red_y, RED, 2.4)
panels[4][2] = p

# ---------------- header ----------------
col_centers = [203.5, 511.5, 818.5]
hd = figure(width=925, height=76, x_range=Range1d(0, 925), y_range=Range1d(0, 76), x_axis_type=None,
            y_axis_type=None, output_backend="svg", toolbar_location=None, min_border=0, title=None)
hd.outline_line_color = None
hd.text(x=col_centers, y=[58] * 3, text=col_titles, text_font=value(SERIF), text_font_style="bold",
        text_font_size="30px", text_align="center", text_baseline="middle", text_color="black")
hd.text(x=[col_centers[0], col_centers[2]], y=[26, 26], text=[col_formulas[0], col_formulas[2]],
        text_font=value(SERIF), text_font_style="italic", text_font_size="23px", text_align="center",
        text_baseline="middle", text_color="black")
hd.text(x=[549], y=[26], text=[col_formulas[1]], text_font=value(SERIF), text_font_style="italic",
        text_font_size="23px", text_align="right", text_baseline="middle", text_color="black")
hd.text(x=[566, 566], y=[35, 15], text=mixed_fraction[:2], text_font=value(SERIF), text_font_style="italic",
        text_font_size="15px", text_align="center", text_baseline="middle", text_color="black")
hd.line([553, 580], [25.5, 25.5], line_color="black", line_width=1)
hd.text(x=[581], y=[26], text=[mixed_fraction[2]], text_font=value(SERIF), text_font_size="23px",
        text_align="left", text_baseline="middle", text_color="black")

row_label_offsets = [19, 7, 17, 7, -6]


def label_fig(txt, off):
    f = figure(width=60, height=242, x_range=Range1d(0, 60), y_range=Range1d(0, 242), x_axis_type=None,
               y_axis_type=None, output_backend="svg", toolbar_location=None, min_border=0, title=None)
    f.outline_line_color = None
    f.text(x=[22], y=[134 - off], text=[txt], angle=math.pi / 2, text_font=value(SERIF), text_font_size="27px",
           text_align="center", text_baseline="middle", text_color="black")
    return f


# ---------------- legend ----------------
lg = figure(width=925, height=50, x_range=Range1d(0, 1), y_range=Range1d(0, 1), x_axis_type=None,
            y_axis_type=None, output_backend="svg", toolbar_location=None, min_border=0, title=None)
lg.outline_line_color = None
items = []
for lab, col in zip(legend_labels, legend_colors):
    rr = lg.line(x=[5, 6], y=[5, 6], line_color=col, line_width=5)
    items.append(LegendItem(label=lab, renderers=[rr]))
leg = Legend(items=items, orientation="horizontal", location=(275, 3), glyph_width=37, glyph_height=20,
             label_standoff=7, label_width=64, label_height=20, spacing=32, padding=0, margin=0,
             border_line_color=None, background_fill_alpha=0, label_text_font=SERIF,
             label_text_font_size="15px")
lg.add_layout(leg)

rows = [row(label_fig(row_labels[r], row_label_offsets[r]), panels[r][0], panels[r][1], panels[r][2])
        for r in range(5)]
layout = column(hd, *rows, lg)
open("out.html", "w").write(file_html(layout, INLINE))
